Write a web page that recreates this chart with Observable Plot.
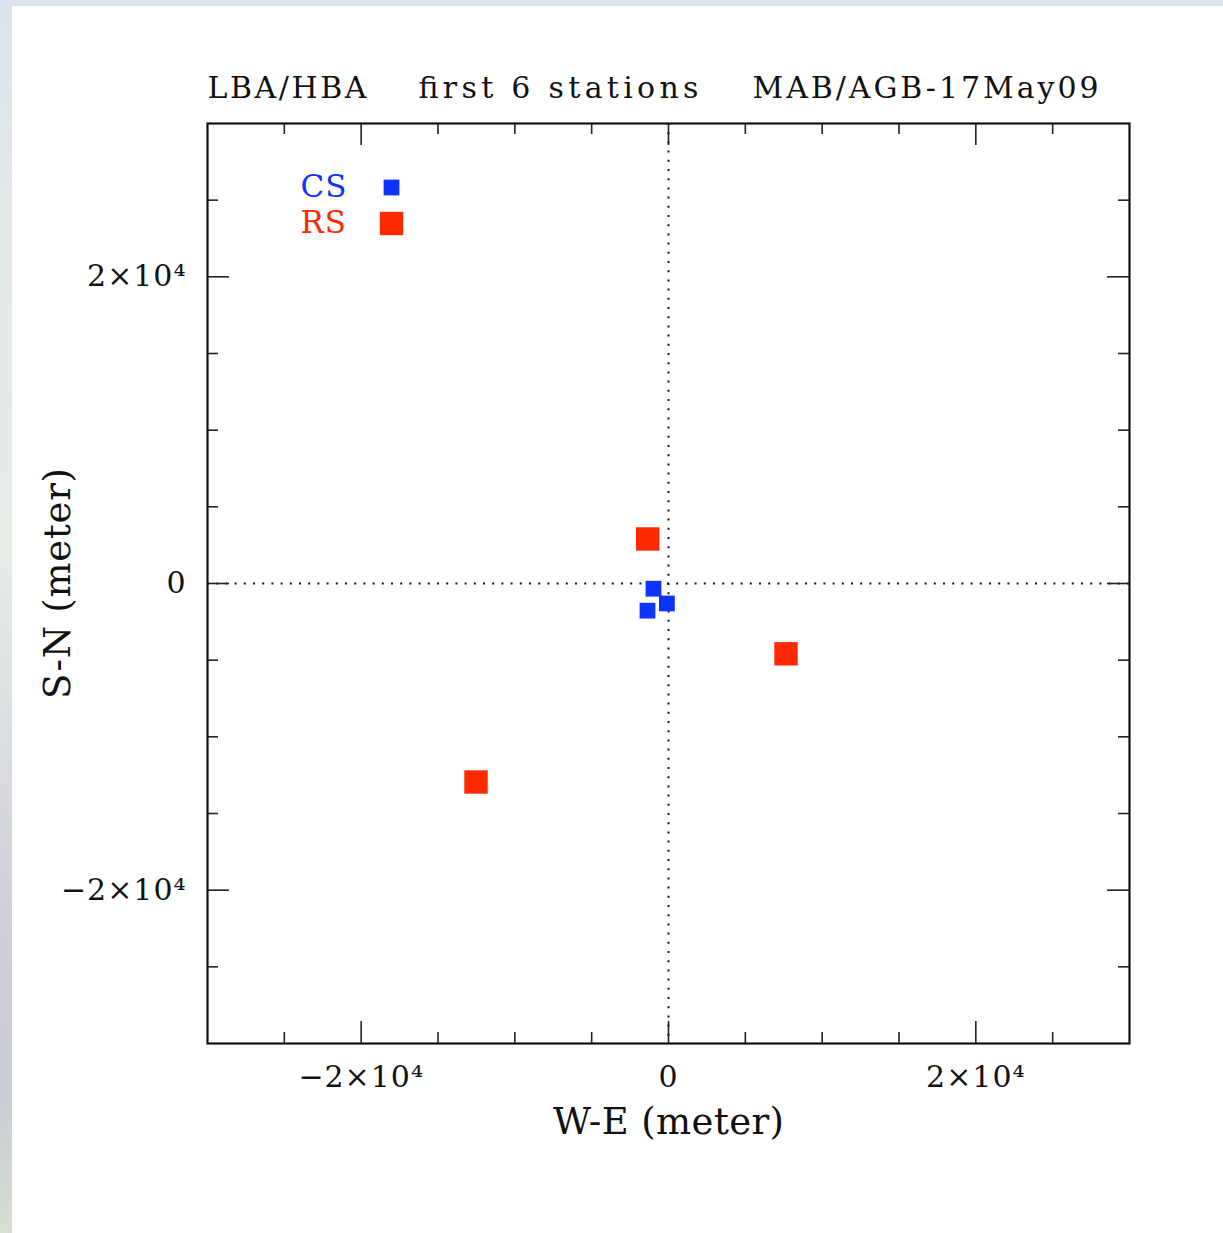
<!DOCTYPE html>
<html>
<head>
<meta charset="utf-8">
<script src="https://cdn.jsdelivr.net/npm/d3@7"></script>
<script src="https://cdn.jsdelivr.net/npm/@observablehq/plot@0.6"></script>
<style>
  html, body { margin: 0; padding: 0; width: 1223px; height: 1233px; overflow: hidden; }
  body { background: linear-gradient(180deg, #dbe4ee 0%, #e3ebe9 20%, #e6ece6 45%, #cfcfdb 75%, #c9cbd6 88%, #d5e0d2 100%); position: relative; }
  #panel { position: absolute; left: 12px; top: 6px; right: 0; bottom: 0; background: #ffffff; }
  #chart { position: absolute; left: 0; top: 0; }
</style>
</head>
<body>
<div id="panel"></div>
<div id="chart"></div>
<script>
// ---- data ----
const stationType = ["CS", "CS", "CS", "RS", "RS", "RS"];
const weMeters    = [-977, -104, -1368, -1355, 7648, -12528];
const snMeters    = [-339, -1303, -1772, 2906, -4586, -12945];

const legendLabels = ["CS", "RS"];
const legendColors = ["#0f33ff", "#ff2a00"];

const titleParts = ["LBA/HBA", "first 6 stations", "MAB/AGB-17May09"];
const xLabel = "W-E (meter)";
const yLabel = "S-N (meter)";

const majorTicks = [-20000, 0, 20000];
const minorTicks = [-25000, -15000, -10000, -5000, 5000, 10000, 15000, 25000];
const tickLabelValues = [-20000, 0, 20000];

// ---- build ----
const stations = stationType.map((t, i) => ({type: t, we: weMeters[i], sn: snMeters[i]}));
const legend = legendLabels.map((l, i) => ({label: l, color: legendColors[i]}));

const W = 1223, H = 1233;
const mL = 207, mR = 94, mT = 123, mB = 190;
const innerW = W - mL - mR, innerH = H - mT - mB;
const font = "DejaVu Serif";

const fmt = v => v === 0 ? "0" : (v < 0 ? "\u2212" : "") + (Math.abs(v) / 1e4) + "\u00d710\u2074";

const tickStyle = {stroke: "#222", strokeWidth: 1.6};
const titleOffsets = [0, 211, 545];
const titleWidths = [159, 280, 346];
const legendRowDy = [73, 109];
const legendBoxDy = [64, 100];
const legendR = [8.9, 13.2];

const chart = Plot.plot({
  width: W, height: H,
  marginLeft: mL, marginRight: mR, marginTop: mT, marginBottom: mB,
  style: {background: "transparent", fontFamily: font, fontSize: "30px", color: "#111", letterSpacing: "1px"},
  x: {domain: [-30000, 30000], axis: null, label: null},
  y: {domain: [-30000, 30000], axis: null, label: null},
  marks: [
    // dotted zero lines
    Plot.ruleX([0], {stroke: "#111", strokeWidth: 2, strokeDasharray: "2,7.2"}),
    Plot.ruleY([0], {stroke: "#111", strokeWidth: 2, strokeDasharray: "2,7.2"}),
    // inward ticks, all four sides
    Plot.ruleX(majorTicks, {...tickStyle, insetTop: innerH - 22}),
    Plot.ruleX(majorTicks, {...tickStyle, insetBottom: innerH - 22}),
    Plot.ruleX(minorTicks, {...tickStyle, insetTop: innerH - 11}),
    Plot.ruleX(minorTicks, {...tickStyle, insetBottom: innerH - 11}),
    Plot.ruleY(majorTicks, {...tickStyle, insetRight: innerW - 22}),
    Plot.ruleY(majorTicks, {...tickStyle, insetLeft: innerW - 22}),
    Plot.ruleY(minorTicks, {...tickStyle, insetRight: innerW - 11}),
    Plot.ruleY(minorTicks, {...tickStyle, insetLeft: innerW - 11}),
    Plot.frame({stroke: "#111", strokeWidth: 2.2}),
    // tick labels
    Plot.axisX(tickLabelValues, {anchor: "bottom", label: null, tickSize: 0, tickPadding: 22, tickFormat: fmt, fontSize: 30, fill: "#111"}),
    Plot.axisY(tickLabelValues, {anchor: "left", label: null, tickSize: 0, tickPadding: 21, tickFormat: fmt, fontSize: 30, fill: "#111"}),
    // axis titles
    Plot.text([xLabel], {ariaDescription: "axis-title", frameAnchor: "bottom", lineAnchor: "bottom", dy: 90, fontSize: 37, fill: "#111", text: d => d}),
    Plot.text([yLabel], {ariaDescription: "axis-title", frameAnchor: "left", textAnchor: "middle", rotate: -90, lineAnchor: "middle", dx: -149, fontSize: 37, fill: "#111", text: d => d}),
    // title
    ...titleParts.map((t, i) => Plot.text([t], {ariaDescription: "title-" + i, frameAnchor: "top-left", textAnchor: "start", lineAnchor: "bottom", dx: titleOffsets[i], dy: -26, fontSize: 30, fill: "#111", text: d => d})),
    // stations
    Plot.dot(stations, {filter: d => d.type === "CS", x: "we", y: "sn", symbol: "square", r: legendR[0], fill: legendColors[0], stroke: null}),
    Plot.dot(stations, {filter: d => d.type === "RS", x: "we", y: "sn", symbol: "square", r: legendR[1], fill: legendColors[1], stroke: null}),
    // legend
    ...legend.map((e, i) => Plot.text([e], {frameAnchor: "top-left", textAnchor: "start", lineAnchor: "bottom", dx: 93, dy: legendRowDy[i], fontSize: 31, fill: e.color, text: "label"})),
    ...legend.map((e, i) => Plot.dot([e], {frameAnchor: "top-left", dx: 184, dy: legendBoxDy[i], symbol: "square", r: legendR[i], fill: e.color, stroke: null}))
  ]
});
// stretch letter spacing of the title pieces and axis titles to the reference widths
titleWidths.forEach((w, i) => {
  d3.select(chart).selectAll(`g[aria-description="title-${i}"] text`)
    .style("letter-spacing", "0px").attr("textLength", w).attr("lengthAdjust", "spacing");
});
d3.select(chart).selectAll('g[aria-description="axis-title"] text')
  .style("letter-spacing", "0px").attr("textLength", 231).attr("lengthAdjust", "spacing");
document.getElementById("chart").appendChild(chart);
</script>
</body>
</html>
